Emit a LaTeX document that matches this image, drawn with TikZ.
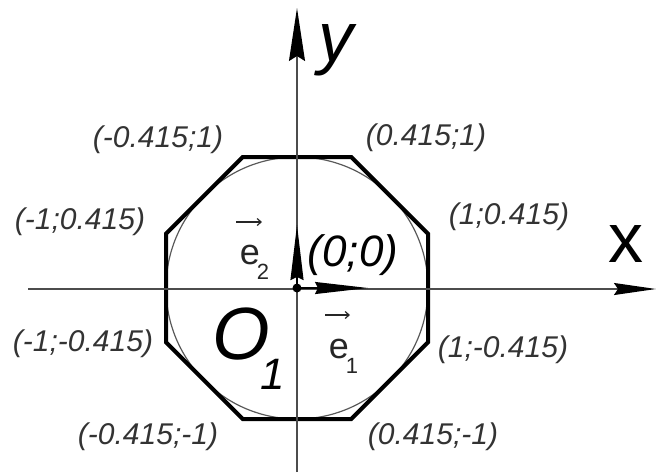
\documentclass[tikz,border=0pt]{standalone}
\usepackage{fontspec}
\setmainfont{Liberation Sans}
\usetikzlibrary{arrows.meta}
\begin{document}
\begin{tikzpicture}[x=1pt,y=-1pt,
  lbl/.style={font=\fontsize{30}{36}\selectfont\itshape, text=black!80, inner sep=0pt},
  axisline/.style={draw=black!70, line width=1.6pt},
  octa/.style={draw=black, line width=4pt, line join=miter},
  circ/.style={draw=black!65, line width=1.2pt}]
\useasboundingbox (0,0) rectangle (656,472);
\def\R{131}
\def\A{54.3}
\coordinate (O) at (297,288);
\coordinate (xl) at (28,289);
\coordinate (xr) at (656,289);
\coordinate (yb) at (297,472);
\coordinate (yt) at (297,8);
\coordinate (e1t) at (368,288);
\coordinate (e2t) at (297,225);
% circle
\draw[circ] (O) circle (\R);
% octagon
\path (O) ++(\A,-\R) coordinate (v1)
      (O) ++(\R,-\A) coordinate (v2)
      (O) ++(\R,\A) coordinate (v3)
      (O) ++(\A,\R) coordinate (v4)
      (O) ++(-\A,\R) coordinate (v5)
      (O) ++(-\R,\A) coordinate (v6)
      (O) ++(-\R,-\A) coordinate (v7)
      (O) ++(-\A,-\R) coordinate (v8);
\draw[octa] (v1)--(v2)--(v3)--(v4)--(v5)--(v6)--(v7)--(v8)--cycle;
% axes
\draw[axisline, -{Stealth[length=42pt,width=12pt,inset=4pt,color=black,fill=black]}] (xl) -- (xr);
\draw[axisline, -{Stealth[length=53pt,width=16pt,inset=5pt,color=black,fill=black]}] (yb) -- (yt);
% unit vectors
\draw[draw=black, line width=1.6pt, -{Stealth[length=53pt,width=12pt,inset=3pt,color=black,fill=black]}] (O) -- (e1t);
\draw[draw=black, line width=1.6pt, -{Stealth[length=55pt,width=13pt,inset=3pt,color=black,fill=black]}] (O) -- (e2t);
\fill[black] (O) circle (4.5);
% axis labels
\node[font=\fontsize{70}{80}\selectfont\itshape, inner sep=0pt, anchor=base] (ylab) at (336,61) {y};
\node[font=\fontsize{70}{80}\selectfont, inner sep=0pt, anchor=base] (xlab) at (626,262) {x};
% vertex labels
\node[lbl] (l1) at (426,138) {(0.415;1)};
\node[lbl] (l8) at (158,140) {(-0.415;1)};
\node[lbl] (l2) at (509,217) {(1;0.415)};
\node[lbl] (l7) at (80,222) {(-1;0.415)};
\node[lbl] (l6) at (83,344) {(-1;-0.415)};
\node[lbl] (l3) at (503,350) {(1;-0.415)};
\node[lbl] (l5) at (148,437) {(-0.415;-1)};
\node[lbl] (l4) at (433,437) {(0.415;-1)};
\node[font=\fontsize{44}{50}\selectfont\itshape, inner sep=0pt] (olab) at (353,255) {(0;0)};
% basis vector labels
\node[font=\fontsize{36}{40}\selectfont, inner sep=0pt, text=black!85] (e2) at (250,255) {e};
\node[font=\fontsize{22}{26}\selectfont, inner sep=0pt, text=black!85] (e2s) at (263,272) {2};
\draw[black!85, line width=1.2pt, -{Straight Barb[length=4pt,width=7pt]}] (236,222) -- (262,222);
\node[font=\fontsize{36}{40}\selectfont, inner sep=0pt, text=black!85] (e1) at (339,349) {e};
\node[font=\fontsize{22}{26}\selectfont, inner sep=0pt, text=black!85] (e1s) at (352,366) {1};
\draw[black!85, line width=1.2pt, -{Straight Barb[length=4pt,width=7pt]}] (325,315) -- (350,315);
% O1
\node[font=\fontsize{74}{80}\selectfont\itshape, inner sep=0pt] (O1) at (241,334) {O};
\node[font=\fontsize{44}{50}\selectfont\itshape, inner sep=0pt] (O1s) at (273,374) {1};
\end{tikzpicture}
\end{document}
